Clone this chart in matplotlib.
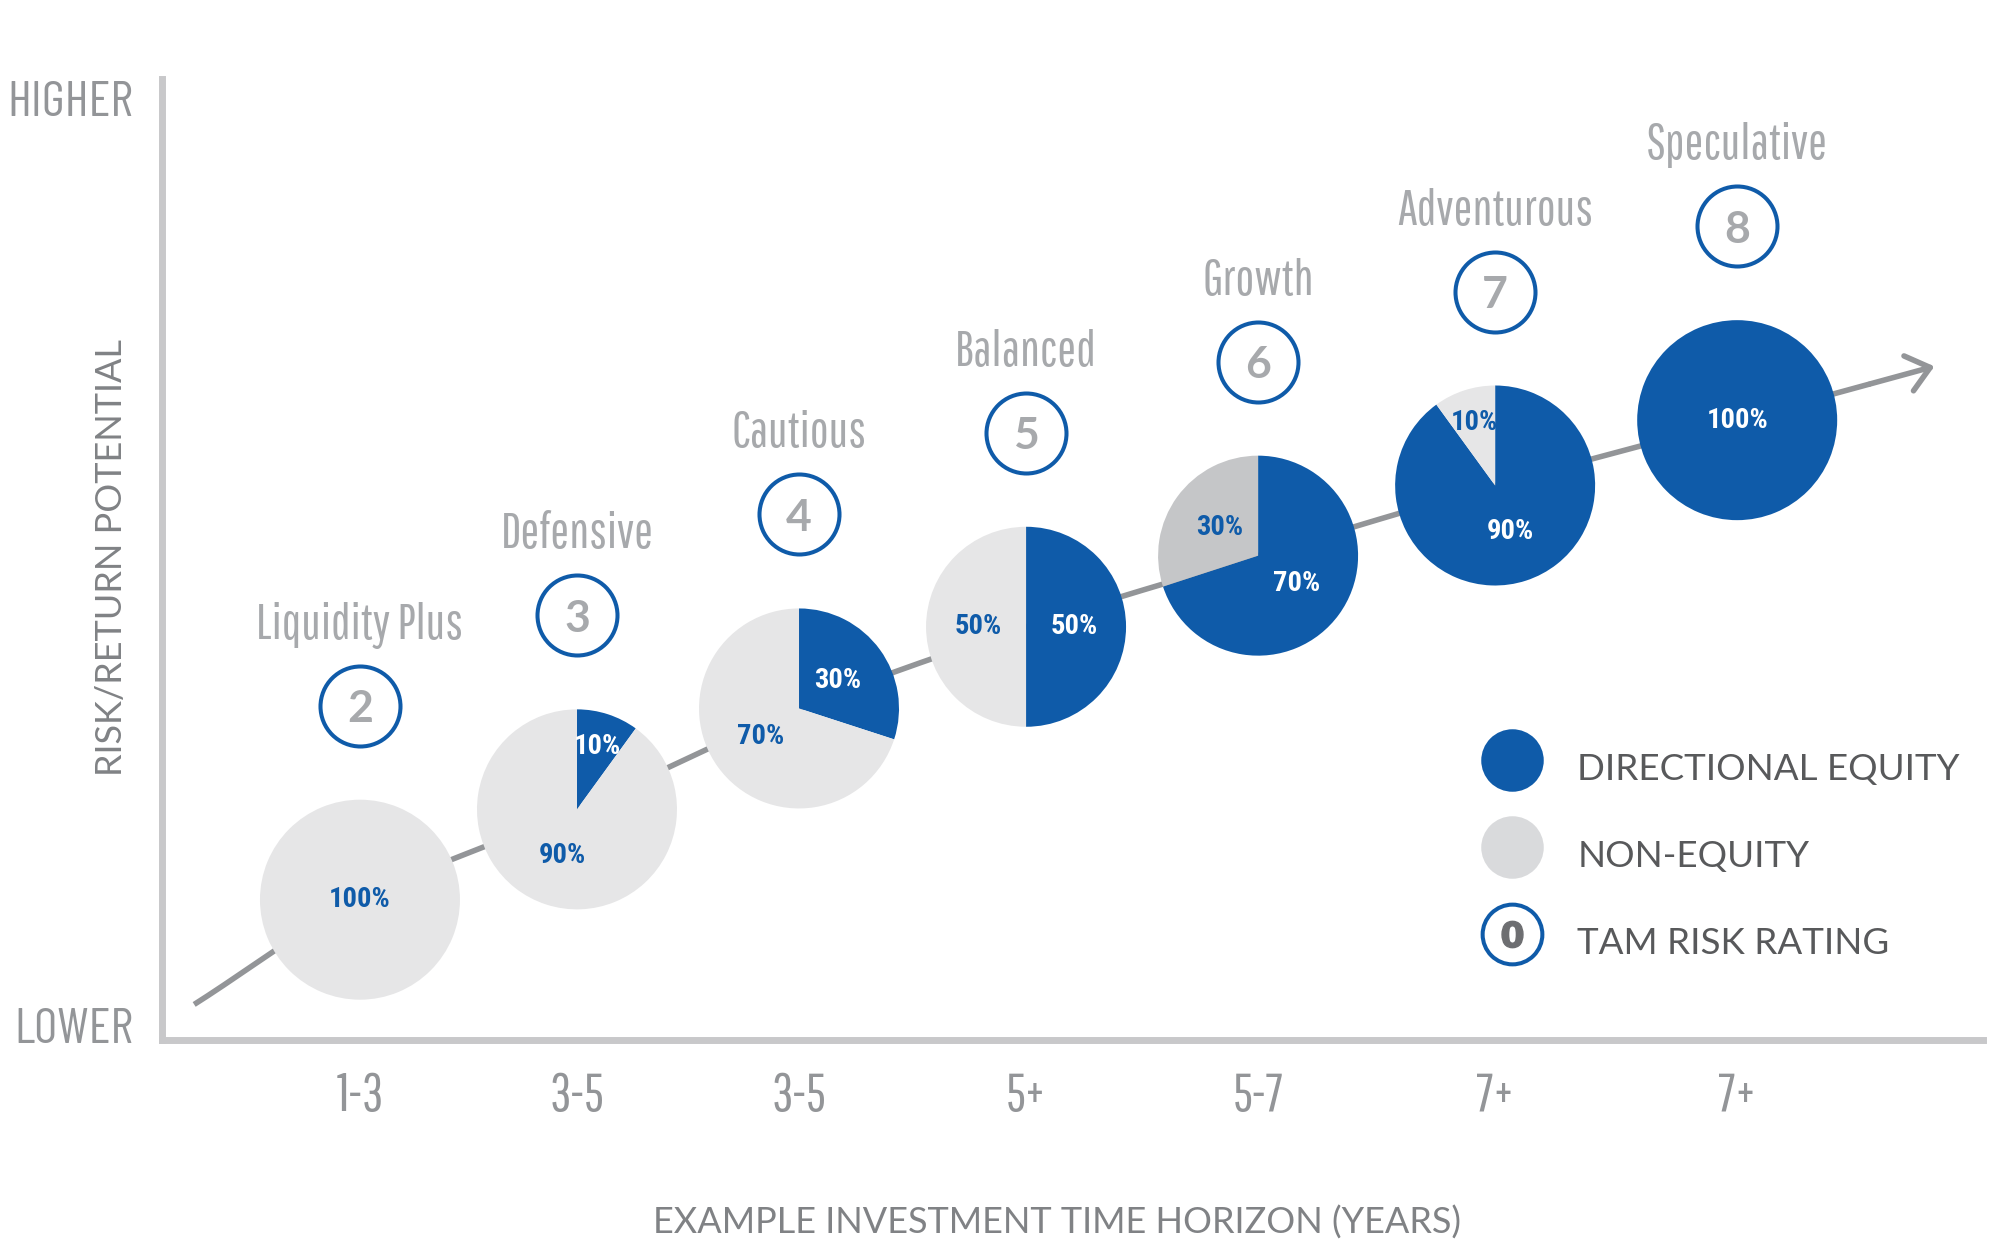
import numpy as np
import matplotlib
matplotlib.use("Agg")
import matplotlib.pyplot as plt
from matplotlib import font_manager as fm
from matplotlib import transforms as mtransforms
from matplotlib.lines import Line2D
from matplotlib.legend_handler import HandlerTuple
from matplotlib.font_manager import FontProperties

# ---------------- data ----------------
profiles = ["Liquidity Plus", "Defensive", "Cautious", "Balanced", "Growth", "Adventurous", "Speculative"]
tam_ratings = [2, 3, 4, 5, 6, 7, 8]
equity_pct = [0, 10, 30, 50, 70, 90, 100]
non_equity_pct = [100, 90, 70, 50, 30, 10, 0]
horizons = ["1-3", "3-5", "3-5", "5+", "5-7", "7+", "7+"]
risk_return = [1.46, 2.40, 3.45, 4.30, 5.04, 5.77, 6.45]
trend_start = (-0.78, 0.37)
trend_end = (6.80, 7.01)
legend_labels = ["DIRECTIONAL EQUITY", "NON-EQUITY", "TAM RISK RATING"]

# ---------------- fonts ----------------
names = {f.name for f in fm.fontManager.ttflist}
def pick(cands, default="DejaVu Sans"):
    for c in cands:
        if c in names:
            return c
    return default
NAMEF = pick(["Pathway Gothic One", "Barlow Condensed", "Roboto Condensed"])
ENDF = pick(["Barlow Condensed", "Roboto Condensed", "Liberation Sans Narrow"])
PCT = pick(["Roboto Condensed", "PT Sans Narrow", "Liberation Sans Narrow"])
NUMF = pick(["Lato", "Open Sans"])
SANS = pick(["Lato", "Open Sans", "Noto Sans"])

# ---------------- style ----------------
BLUE = "#0f5ba9"
LIGHT = "#e6e6e7"
DARKER = "#c5c6c8"
LEG_GREY = "#d9dadc"
AXIS = "#c8c8ca"
TXT = "#939598"
LABEL_GREY = "#a7a9ac"
DARK_TXT = "#58595b"
noneq_colors = [LIGHT, LIGHT, LIGHT, LIGHT, DARKER, LIGHT, LIGHT]

W, H = 2000, 1243
fig = plt.figure(figsize=(W / 100, H / 100), dpi=100)
ax_l, ax_r, ax_b, ax_t = 162, 1983, 1040, 79
ax = fig.add_axes([ax_l / W, 1 - ax_b / H, (ax_r - ax_l) / W, (ax_b - ax_t) / H])

# slight perspective widening of the category spacing
C = 0.01167
def fwd(v):
    v = np.asarray(v, float)
    return v + C * v ** 2
def inv(u):
    u = np.asarray(u, float)
    return (-1 + np.sqrt(np.maximum(1 + 4 * C * u, 0))) / (2 * C)
ax.set_xscale("function", functions=(fwd, inv))
ax.set_xlim(-0.933, 6.995)
ax.set_ylim(0, 10)
for s in ("top", "right"):
    ax.spines[s].set_visible(False)
for s in ("left", "bottom"):
    ax.spines[s].set_color(AXIS)
    ax.spines[s].set_linewidth(5)
ax.set_yticks([])
ax.minorticks_off()
x = np.arange(len(profiles))
ax.set_xticks(x, horizons)
ax.tick_params(axis="x", which="both", length=0, pad=22, labelsize=38, labelcolor=TXT)
for t in ax.get_xticklabels():
    t.set_fontfamily(NAMEF)

# axis end labels
ax.text(-0.016, 1.0 - 37 / 961, "HIGHER", transform=ax.transAxes, ha="right", va="baseline",
        fontsize=36.5, color=TXT, family=ENDF)
ax.text(-0.016, -3 / 961, "LOWER", transform=ax.transAxes, ha="right", va="baseline",
        fontsize=36.5, color=TXT, family=ENDF)

ax.set_ylabel("RISK/RETURN POTENTIAL", family=SANS, fontsize=26, color="#808285",
              ha="center", va="center")
ax.yaxis.set_label_coords((111.5 - ax_l) / (ax_r - ax_l), (ax_b - 558) / (ax_b - ax_t))
ax.set_xlabel("EXAMPLE INVESTMENT TIME HORIZON (YEARS)", family=SANS, fontsize=26,
              color="#808285", va="baseline", ha="center")
ax.xaxis.set_label_coords((1057 - ax_l) / (ax_r - ax_l), -(1234 - ax_b) / (ax_b - ax_t))

# ---------------- trend curve ----------------
def catmull_rom(P, n=40):
    P = np.asarray(P, float)
    ext = np.vstack([2 * P[0] - P[1], P, 2 * P[-1] - P[-2]])
    out = []
    t = np.linspace(0, 1, n, endpoint=False)[:, None]
    for i in range(1, len(ext) - 2):
        p0, p1, p2, p3 = ext[i - 1], ext[i], ext[i + 1], ext[i + 2]
        seg = 0.5 * ((2 * p1) + (-p0 + p2) * t + (2 * p0 - 5 * p1 + 4 * p2 - p3) * t ** 2
                     + (-p0 + 3 * p1 - 3 * p2 + p3) * t ** 3)
        out.append(seg)
    out.append(P[-1][None, :])
    return np.vstack(out)

pts = [trend_start] + list(zip(x, risk_return)) + [trend_end]
disp = ax.transData.transform(pts)
curve_disp = catmull_rom(disp, 60)
curve = ax.transData.inverted().transform(curve_disp)
ax.plot(curve[:-20, 0], curve[:-20, 1], color=TXT, lw=4, solid_capstyle="butt", zorder=2)
ax.annotate("", xy=tuple(curve[-1]), xytext=tuple(curve[-21]),
            arrowprops=dict(arrowstyle="->,head_length=1.6,head_width=1.3", lw=4, color=TXT,
                            shrinkA=0, shrinkB=0), zorder=2)

# ---------------- pies ----------------
R = 100  # pixel radius
ax_w_px = ax_r - ax_l
ax_h_px = ax_b - ax_t
wd, ht = 2 * R / ax_w_px, 2 * R / ax_h_px
to_axes = ax.transAxes.inverted()
for i in range(len(profiles)):
    cx, cy = to_axes.transform(ax.transData.transform((x[i], risk_return[i])))
    pa = ax.inset_axes([cx - wd / 2, cy - ht / 2, wd, ht], transform=ax.transAxes, zorder=5)
    vals = [equity_pct[i], non_equity_pct[i]]
    cols = [BLUE, noneq_colors[i]]
    wedges, _ = pa.pie(vals, colors=cols, startangle=90, counterclock=False, radius=1,
                       wedgeprops=dict(linewidth=0))
    pa.set_xlim(-1, 1)
    pa.set_ylim(-1, 1)
    pa.set_axis_off()
    for w, v, c in zip(wedges, vals, cols):
        if v == 0:
            continue
        if v == 100:
            tx, ty = 0, 0
        else:
            th = np.deg2rad((w.theta1 + w.theta2) / 2)
            rr = 0.66 if v <= 15 else 0.48
            tx, ty = rr * np.cos(th), rr * np.sin(th)
        pa.text(tx, ty, f"{v}%", ha="center", va="center", fontsize=20.5, weight="bold",
                family=PCT, color="white" if c == BLUE else BLUE)

# ---------------- rating circles and names ----------------
off_c = mtransforms.offset_copy(ax.transData, fig=fig, x=0, y=194, units="dots")
off_t = mtransforms.offset_copy(ax.transData, fig=fig, x=0, y=261, units="dots")
ax.scatter(x, risk_return, s=57.6 ** 2, facecolor="white", edgecolor=BLUE, linewidth=2.9,
           transform=off_c, zorder=4, clip_on=False)
for i in range(len(profiles)):
    ax.text(x[i], risk_return[i], str(tam_ratings[i]), transform=off_c, ha="center",
            va="center_baseline", fontsize=32, color=LABEL_GREY, family=NUMF, weight="bold", zorder=6)
    ax.text(x[i], risk_return[i], profiles[i], transform=off_t, ha="center", va="baseline",
            fontsize=36, color=LABEL_GREY, family=NAMEF, zorder=6)

# ---------------- legend ----------------
h1 = Line2D([], [], ls="none", marker="o", ms=45, mfc=BLUE, mec="none")
h2 = Line2D([], [], ls="none", marker="o", ms=45, mfc=LEG_GREY, mec="none")
h3a = Line2D([], [], ls="none", marker="o", ms=43, mfc="white", mec=BLUE, mew=2.9)
h3b = Line2D([], [], ls="none", marker=r"$\mathbf{0}$", ms=19, color="#6d6e71")
leg = ax.legend([h1, h2, (h3a, h3b)], legend_labels, loc="upper left",
                bbox_to_anchor=(1483 / W, 1 - 740 / H), bbox_transform=fig.transFigure,
                frameon=False, borderpad=0, borderaxespad=0, handlelength=1.6, handleheight=2.0,
                handletextpad=0.96, labelspacing=0.82,
                prop=FontProperties(family=SANS, size=26.5), labelcolor=DARK_TXT,
                handler_map={tuple: HandlerTuple(ndivide=1, pad=0)})

fig.savefig("out.png", dpi=100)
